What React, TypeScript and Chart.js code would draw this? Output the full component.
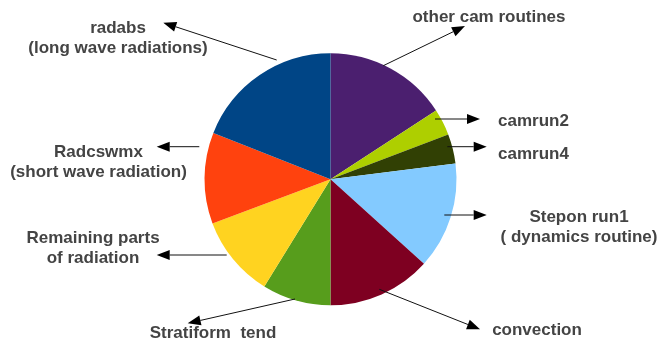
import React, { useEffect, useRef } from "react";
import { Chart, registerables } from "chart.js";

Chart.register(...registerables);

const categories = [
  "other cam routines",
  "camrun2",
  "camrun4",
  "Stepon run1",
  "convection",
  "Stratiform  tend",
  "Remaining parts of radiation",
  "Radcswmx",
  "radabs",
];
const shares = [15.8, 3.4, 3.8, 13.7, 13.3, 8.8, 10.5, 11.7, 19.0];
const colors = [
  "#4b1f6f",
  "#aecf00",
  "#314004",
  "#83caff",
  "#7e0021",
  "#579d1c",
  "#ffd320",
  "#ff420e",
  "#004586",
];

// label annotations: text lines, text anchor, alignment, arrow start/tip
const labelLines = [
  ["other cam routines"],
  ["camrun2"],
  ["camrun4"],
  ["Stepon run1", "( dynamics routine)"],
  ["convection"],
  ["Stratiform  tend"],
  ["Remaining parts", "of radiation"],
  ["Radcswmx", "(short wave radiation)"],
  ["radabs", "(long wave radiations)"],
];
const labelPos: [number, number, CanvasTextAlign][] = [
  [489, 17.5, "center"],
  [498, 121, "left"],
  [498, 154.5, "left"],
  [579, 217, "center"],
  [537, 330, "center"],
  [213, 333.5, "center"],
  [93, 238.5, "center"],
  [98.5, 152, "center"],
  [118, 28, "center"],
];
const arrowFrom: [number, number][] = [
  [383.3, 65.7],
  [435, 119],
  [447.3, 146.7],
  [444.3, 215],
  [379.3, 289.3],
  [295, 299],
  [226.7, 255],
  [199.3, 146.7],
  [276.7, 60],
];
const arrowTo: [number, number][] = [
  [465, 26],
  [480, 119],
  [486.7, 146.7],
  [486.7, 215],
  [480, 329.3],
  [187.7, 323.3],
  [156.7, 255],
  [156.7, 146.7],
  [163.3, 22.7],
];

const annotations = {
  id: "annotations",
  afterDraw(chart: any) {
    const ctx = chart.ctx as CanvasRenderingContext2D;
    ctx.save();
    for (let i = 0; i < labelLines.length; i++) {
      const [x1, y1] = arrowFrom[i];
      const [x2, y2] = arrowTo[i];
      const ang = Math.atan2(y2 - y1, x2 - x1);
      const hl = 13;
      const hw = 5;
      const bx = x2 - hl * Math.cos(ang);
      const by = y2 - hl * Math.sin(ang);
      ctx.strokeStyle = "#111";
      ctx.lineWidth = 1;
      ctx.beginPath();
      ctx.moveTo(x1, y1);
      ctx.lineTo(bx, by);
      ctx.stroke();
      ctx.fillStyle = "#000";
      ctx.beginPath();
      ctx.moveTo(x2, y2);
      ctx.lineTo(bx + hw * Math.sin(ang), by - hw * Math.cos(ang));
      ctx.lineTo(bx - hw * Math.sin(ang), by + hw * Math.cos(ang));
      ctx.closePath();
      ctx.fill();

      const [tx, ty, align] = labelPos[i];
      ctx.font = "bold 17px 'Liberation Sans', Arial, sans-serif";
      ctx.fillStyle = "#444444";
      ctx.textAlign = align;
      ctx.textBaseline = "middle";
      labelLines[i].forEach((line, j) => {
        ctx.fillText(line, tx, ty + j * 20);
      });
    }
    ctx.restore();
  },
};

export default function App() {
  const ref = useRef<HTMLCanvasElement>(null);
  useEffect(() => {
    if (!ref.current) return;
    const chart = new Chart(ref.current, {
      type: "pie",
      data: {
        labels: categories,
        datasets: [
          {
            data: shares,
            backgroundColor: colors,
            borderWidth: 0,
          },
        ],
      },
      options: {
        responsive: false,
        animation: false,
        layout: {
          padding: { top: 53.3, bottom: 35.7, left: 204.5, right: 203.5 },
        },
        plugins: {
          legend: { display: false },
          tooltip: { enabled: false },
        },
      },
      plugins: [annotations],
    });
    return () => chart.destroy();
  }, []);
  return (
    <div style={{ position: "fixed", left: 0, top: 0, width: 660, height: 341, background: "#fff" }}>
      <canvas ref={ref} width={660} height={341} />
    </div>
  );
}
